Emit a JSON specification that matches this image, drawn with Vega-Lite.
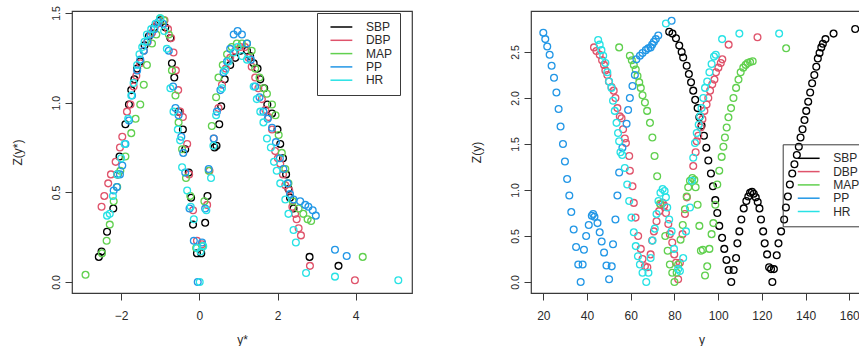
{
  "$schema": "https://vega.github.io/schema/vega-lite/v6.json",
  "background": "white",
  "autosize": {"type": "pad"},
  "padding": {"left": 10, "top": 5, "right": 0, "bottom": 0},
  "spacing": 119,
  "bounds": "flush",
  "resolve": {"scale": {"color": "independent"}, "legend": {"color": "independent"}},
  "config": {
    "font": "Liberation Sans",
    "view": {"stroke": "#3a3a3a", "strokeWidth": 1.2},
    "axis": {"domain": false, "grid": false, "tickSize": 7, "tickColor": "#3a3a3a", "tickWidth": 1, "labelColor": "#2a2a2a", "titleColor": "#2a2a2a", "titleFontWeight": "normal", "titleFontSize": 12, "labelFont": "Liberation Sans", "titleFont": "Liberation Sans"},
    "axisX": {"labelFontSize": 12, "labelPadding": 10, "titlePadding": 13},
    "axisY": {"labelFontSize": 10.5, "labelAngle": -90, "labelAlign": "center", "labelBaseline": "alphabetic", "labelPadding": 6, "titlePadding": 27},
    "legend": {"symbolType": "M-3,0H3", "symbolSize": 53, "symbolStrokeWidth": 1.5, "labelFontSize": 12, "labelColor": "#2a2a2a", "strokeColor": "#3a3a3a", "padding": 8, "rowPadding": 1.3, "labelOffset": 18.5}
  },
  "datasets": {
    "standardized": [
      {"series":"SBP","y":-2.57,"z":0.14},{"series":"SBP","y":-2.50,"z":0.17},{"series":"SBP","y":-2.36,"z":0.28},{"series":"SBP","y":-2.20,"z":0.41},{"series":"SBP","y":-2.09,"z":0.60},{"series":"SBP","y":-2.04,"z":0.70},{"series":"SBP","y":-1.89,"z":0.88},{"series":"SBP","y":-1.80,"z":0.99},{"series":"SBP","y":-1.74,"z":1.07},{"series":"SBP","y":-1.66,"z":1.13},{"series":"SBP","y":-1.59,"z":1.19},{"series":"SBP","y":-1.51,"z":1.23},{"series":"SBP","y":-1.40,"z":1.32},{"series":"SBP","y":-1.29,"z":1.37},{"series":"SBP","y":-1.15,"z":1.42},{"series":"SBP","y":-1.00,"z":1.46},{"series":"SBP","y":-0.87,"z":1.42},{"series":"SBP","y":-0.74,"z":1.36},{"series":"SBP","y":-0.70,"z":1.22},{"series":"SBP","y":-0.64,"z":1.14},{"series":"SBP","y":-0.53,"z":0.95},{"series":"SBP","y":-0.42,"z":0.85},{"series":"SBP","y":-0.36,"z":0.74},{"series":"SBP","y":-0.27,"z":0.61},{"series":"SBP","y":-0.21,"z":0.47},{"series":"SBP","y":-0.16,"z":0.32},{"series":"SBP","y":-0.06,"z":0.16},{"series":"SBP","y":0.05,"z":0.16},{"series":"SBP","y":0.15,"z":0.33},{"series":"SBP","y":0.21,"z":0.48},{"series":"SBP","y":0.39,"z":0.75},{"series":"SBP","y":0.44,"z":0.76},{"series":"SBP","y":0.51,"z":0.88},{"series":"SBP","y":0.56,"z":0.98},{"series":"SBP","y":0.65,"z":1.13},{"series":"SBP","y":0.79,"z":1.21},{"series":"SBP","y":0.92,"z":1.25},{"series":"SBP","y":1.05,"z":1.29},{"series":"SBP","y":1.22,"z":1.29},{"series":"SBP","y":1.30,"z":1.26},{"series":"SBP","y":1.39,"z":1.22},{"series":"SBP","y":1.49,"z":1.19},{"series":"SBP","y":1.56,"z":1.13},{"series":"SBP","y":1.66,"z":1.08},{"series":"SBP","y":1.74,"z":0.99},{"series":"SBP","y":1.86,"z":0.94},{"series":"SBP","y":2.00,"z":0.85},{"series":"SBP","y":2.07,"z":0.77},{"series":"SBP","y":2.14,"z":0.69},{"series":"SBP","y":2.22,"z":0.60},{"series":"SBP","y":2.28,"z":0.52},{"series":"SBP","y":2.32,"z":0.47},{"series":"SBP","y":2.41,"z":0.41},{"series":"SBP","y":2.82,"z":0.14},{"series":"SBP","y":3.56,"z":0.09},
      {"series":"DBP","y":-2.50,"z":0.42},{"series":"DBP","y":-2.43,"z":0.48},{"series":"DBP","y":-2.33,"z":0.55},{"series":"DBP","y":-2.26,"z":0.60},{"series":"DBP","y":-2.14,"z":0.67},{"series":"DBP","y":-2.03,"z":0.75},{"series":"DBP","y":-1.97,"z":0.81},{"series":"DBP","y":-1.85,"z":0.95},{"series":"DBP","y":-1.76,"z":0.99},{"series":"DBP","y":-1.68,"z":1.09},{"series":"DBP","y":-1.61,"z":1.15},{"series":"DBP","y":-1.51,"z":1.22},{"series":"DBP","y":-1.42,"z":1.29},{"series":"DBP","y":-1.32,"z":1.34},{"series":"DBP","y":-1.21,"z":1.39},{"series":"DBP","y":-1.08,"z":1.44},{"series":"DBP","y":-0.89,"z":1.46},{"series":"DBP","y":-0.80,"z":1.41},{"series":"DBP","y":-0.72,"z":1.36},{"series":"DBP","y":-0.66,"z":1.28},{"series":"DBP","y":-0.60,"z":1.18},{"series":"DBP","y":-0.54,"z":1.07},{"series":"DBP","y":-0.49,"z":0.95},{"series":"DBP","y":-0.42,"z":0.92},{"series":"DBP","y":-0.31,"z":0.77},{"series":"DBP","y":-0.26,"z":0.60},{"series":"DBP","y":-0.16,"z":0.40},{"series":"DBP","y":-0.06,"z":0.23},{"series":"DBP","y":0.07,"z":0.21},{"series":"DBP","y":0.20,"z":0.43},{"series":"DBP","y":0.26,"z":0.62},{"series":"DBP","y":0.37,"z":0.80},{"series":"DBP","y":0.49,"z":0.97},{"series":"DBP","y":0.58,"z":1.10},{"series":"DBP","y":0.68,"z":1.19},{"series":"DBP","y":0.79,"z":1.25},{"series":"DBP","y":0.92,"z":1.29},{"series":"DBP","y":1.05,"z":1.31},{"series":"DBP","y":1.17,"z":1.31},{"series":"DBP","y":1.26,"z":1.25},{"series":"DBP","y":1.34,"z":1.20},{"series":"DBP","y":1.43,"z":1.14},{"series":"DBP","y":1.51,"z":1.08},{"series":"DBP","y":1.60,"z":1.02},{"series":"DBP","y":1.69,"z":0.96},{"series":"DBP","y":1.77,"z":0.92},{"series":"DBP","y":1.86,"z":0.85},{"series":"DBP","y":1.94,"z":0.73},{"series":"DBP","y":2.01,"z":0.69},{"series":"DBP","y":2.07,"z":0.66},{"series":"DBP","y":2.14,"z":0.60},{"series":"DBP","y":2.20,"z":0.54},{"series":"DBP","y":2.30,"z":0.51},{"series":"DBP","y":2.38,"z":0.42},{"series":"DBP","y":2.45,"z":0.38},{"series":"DBP","y":2.49,"z":0.35},{"series":"DBP","y":2.54,"z":0.30},{"series":"DBP","y":2.60,"z":0.26},{"series":"DBP","y":2.83,"z":0.09},{"series":"DBP","y":3.98,"z":0.01},
      {"series":"MAP","y":-2.91,"z":0.04},{"series":"MAP","y":-2.49,"z":0.16},{"series":"MAP","y":-2.37,"z":0.23},{"series":"MAP","y":-2.29,"z":0.32},{"series":"MAP","y":-2.19,"z":0.45},{"series":"MAP","y":-2.10,"z":0.53},{"series":"MAP","y":-2.02,"z":0.62},{"series":"MAP","y":-1.89,"z":0.70},{"series":"MAP","y":-1.74,"z":0.83},{"series":"MAP","y":-1.63,"z":0.91},{"series":"MAP","y":-1.51,"z":0.99},{"series":"MAP","y":-1.42,"z":1.10},{"series":"MAP","y":-1.34,"z":1.21},{"series":"MAP","y":-1.21,"z":1.33},{"series":"MAP","y":-1.10,"z":1.38},{"series":"MAP","y":-1.00,"z":1.47},{"series":"MAP","y":-0.91,"z":1.46},{"series":"MAP","y":-0.78,"z":1.38},{"series":"MAP","y":-0.70,"z":1.18},{"series":"MAP","y":-0.61,"z":1.04},{"series":"MAP","y":-0.53,"z":0.89},{"series":"MAP","y":-0.44,"z":0.74},{"series":"MAP","y":-0.34,"z":0.58},{"series":"MAP","y":-0.23,"z":0.48},{"series":"MAP","y":-0.08,"z":0.19},{"series":"MAP","y":0.08,"z":0.20},{"series":"MAP","y":0.13,"z":0.45},{"series":"MAP","y":0.24,"z":0.62},{"series":"MAP","y":0.32,"z":0.87},{"series":"MAP","y":0.43,"z":1.03},{"series":"MAP","y":0.49,"z":1.14},{"series":"MAP","y":0.60,"z":1.21},{"series":"MAP","y":0.71,"z":1.27},{"series":"MAP","y":0.83,"z":1.31},{"series":"MAP","y":0.96,"z":1.33},{"series":"MAP","y":1.09,"z":1.33},{"series":"MAP","y":1.22,"z":1.33},{"series":"MAP","y":1.34,"z":1.29},{"series":"MAP","y":1.43,"z":1.19},{"series":"MAP","y":1.54,"z":1.14},{"series":"MAP","y":1.64,"z":1.08},{"series":"MAP","y":1.73,"z":1.05},{"series":"MAP","y":1.86,"z":0.99},{"series":"MAP","y":1.95,"z":0.93},{"series":"MAP","y":2.03,"z":0.82},{"series":"MAP","y":2.11,"z":0.72},{"series":"MAP","y":2.20,"z":0.63},{"series":"MAP","y":2.28,"z":0.55},{"series":"MAP","y":2.39,"z":0.45},{"series":"MAP","y":2.54,"z":0.41},{"series":"MAP","y":2.66,"z":0.38},{"series":"MAP","y":2.77,"z":0.35},{"series":"MAP","y":2.86,"z":0.34},{"series":"MAP","y":4.18,"z":0.14},
      {"series":"PP","y":-2.19,"z":0.51},{"series":"PP","y":-2.11,"z":0.53},{"series":"PP","y":-2.03,"z":0.60},{"series":"PP","y":-1.97,"z":0.65},{"series":"PP","y":-1.89,"z":0.77},{"series":"PP","y":-1.80,"z":0.90},{"series":"PP","y":-1.72,"z":1.04},{"series":"PP","y":-1.59,"z":1.18},{"series":"PP","y":-1.51,"z":1.24},{"series":"PP","y":-1.42,"z":1.29},{"series":"PP","y":-1.33,"z":1.34},{"series":"PP","y":-1.25,"z":1.38},{"series":"PP","y":-1.15,"z":1.41},{"series":"PP","y":-1.04,"z":1.45},{"series":"PP","y":-0.93,"z":1.44},{"series":"PP","y":-0.78,"z":1.29},{"series":"PP","y":-0.67,"z":1.09},{"series":"PP","y":-0.61,"z":0.97},{"series":"PP","y":-0.53,"z":0.93},{"series":"PP","y":-0.46,"z":0.81},{"series":"PP","y":-0.41,"z":0.72},{"series":"PP","y":-0.36,"z":0.61},{"series":"PP","y":-0.25,"z":0.41},{"series":"PP","y":-0.14,"z":0.23},{"series":"PP","y":-0.04,"z":0.00},{"series":"PP","y":0.07,"z":0.22},{"series":"PP","y":0.15,"z":0.41},{"series":"PP","y":0.24,"z":0.63},{"series":"PP","y":0.37,"z":0.80},{"series":"PP","y":0.45,"z":0.95},{"series":"PP","y":0.54,"z":1.07},{"series":"PP","y":0.62,"z":1.17},{"series":"PP","y":0.71,"z":1.23},{"series":"PP","y":0.79,"z":1.30},{"series":"PP","y":0.88,"z":1.38},{"series":"PP","y":0.98,"z":1.40},{"series":"PP","y":1.09,"z":1.38},{"series":"PP","y":1.22,"z":1.33},{"series":"PP","y":1.32,"z":1.24},{"series":"PP","y":1.43,"z":1.09},{"series":"PP","y":1.54,"z":1.03},{"series":"PP","y":1.64,"z":0.95},{"series":"PP","y":1.75,"z":0.91},{"series":"PP","y":1.86,"z":0.86},{"series":"PP","y":1.96,"z":0.78},{"series":"PP","y":2.06,"z":0.69},{"series":"PP","y":2.15,"z":0.63},{"series":"PP","y":2.26,"z":0.55},{"series":"PP","y":2.32,"z":0.49},{"series":"PP","y":2.41,"z":0.46},{"series":"PP","y":2.58,"z":0.45},{"series":"PP","y":2.71,"z":0.43},{"series":"PP","y":2.79,"z":0.42},{"series":"PP","y":2.90,"z":0.40},{"series":"PP","y":2.98,"z":0.37},{"series":"PP","y":3.47,"z":0.18},{"series":"PP","y":3.77,"z":0.145},
      {"series":"HR","y":-2.36,"z":0.37},{"series":"HR","y":-2.29,"z":0.38},{"series":"HR","y":-2.21,"z":0.48},{"series":"HR","y":-2.10,"z":0.60},{"series":"HR","y":-2.00,"z":0.69},{"series":"HR","y":-1.91,"z":0.77},{"series":"HR","y":-1.82,"z":0.91},{"series":"HR","y":-1.74,"z":1.04},{"series":"HR","y":-1.68,"z":1.11},{"series":"HR","y":-1.59,"z":1.21},{"series":"HR","y":-1.53,"z":1.27},{"series":"HR","y":-1.46,"z":1.31},{"series":"HR","y":-1.40,"z":1.34},{"series":"HR","y":-1.34,"z":1.38},{"series":"HR","y":-1.23,"z":1.41},{"series":"HR","y":-1.12,"z":1.44},{"series":"HR","y":-1.00,"z":1.47},{"series":"HR","y":-0.90,"z":1.40},{"series":"HR","y":-0.83,"z":1.30},{"series":"HR","y":-0.74,"z":1.08},{"series":"HR","y":-0.66,"z":0.95},{"series":"HR","y":-0.55,"z":0.85},{"series":"HR","y":-0.49,"z":0.79},{"series":"HR","y":-0.44,"z":0.64},{"series":"HR","y":-0.31,"z":0.51},{"series":"HR","y":-0.22,"z":0.42},{"series":"HR","y":-0.14,"z":0.35},{"series":"HR","y":-0.06,"z":0.19},{"series":"HR","y":0.01,"z":0.00},{"series":"HR","y":0.03,"z":0.17},{"series":"HR","y":0.10,"z":0.20},{"series":"HR","y":0.18,"z":0.40},{"series":"HR","y":0.30,"z":0.58},{"series":"HR","y":0.36,"z":0.76},{"series":"HR","y":0.43,"z":0.93},{"series":"HR","y":0.58,"z":1.08},{"series":"HR","y":0.66,"z":1.18},{"series":"HR","y":0.75,"z":1.23},{"series":"HR","y":0.88,"z":1.28},{"series":"HR","y":0.98,"z":1.31},{"series":"HR","y":1.09,"z":1.26},{"series":"HR","y":1.22,"z":1.24},{"series":"HR","y":1.39,"z":1.09},{"series":"HR","y":1.47,"z":1.02},{"series":"HR","y":1.56,"z":0.95},{"series":"HR","y":1.64,"z":0.89},{"series":"HR","y":1.73,"z":0.80},{"series":"HR","y":1.83,"z":0.75},{"series":"HR","y":1.91,"z":0.67},{"series":"HR","y":1.98,"z":0.62},{"series":"HR","y":2.07,"z":0.55},{"series":"HR","y":2.20,"z":0.46},{"series":"HR","y":2.28,"z":0.38},{"series":"HR","y":2.41,"z":0.29},{"series":"HR","y":2.47,"z":0.22},{"series":"HR","y":2.73,"z":0.05},{"series":"HR","y":3.47,"z":0.03},{"series":"HR","y":5.09,"z":0.01}
    ],
    "original": [
      {"series":"SBP","y":77.6,"z":2.72},{"series":"SBP","y":79.1,"z":2.70},{"series":"SBP","y":80.7,"z":2.65},{"series":"SBP","y":82.2,"z":2.57},{"series":"SBP","y":83.3,"z":2.50},{"series":"SBP","y":84.0,"z":2.44},{"series":"SBP","y":85.6,"z":2.35},{"series":"SBP","y":86.6,"z":2.26},{"series":"SBP","y":87.6,"z":2.17},{"series":"SBP","y":88.6,"z":2.08},{"series":"SBP","y":89.5,"z":1.98},{"series":"SBP","y":90.6,"z":1.89},{"series":"SBP","y":91.4,"z":1.79},{"series":"SBP","y":92.4,"z":1.70},{"series":"SBP","y":93.5,"z":1.59},{"series":"SBP","y":94.6,"z":1.46},{"series":"SBP","y":95.5,"z":1.32},{"series":"SBP","y":96.7,"z":1.18},{"series":"SBP","y":97.6,"z":1.04},{"series":"SBP","y":98.7,"z":0.89},{"series":"SBP","y":99.6,"z":0.75},{"series":"SBP","y":100.5,"z":0.61},{"series":"SBP","y":101.8,"z":0.48},{"series":"SBP","y":102.8,"z":0.36},{"series":"SBP","y":103.8,"z":0.24},{"series":"SBP","y":104.8,"z":0.13},{"series":"SBP","y":106.0,"z":0.00},{"series":"SBP","y":107.1,"z":0.13},{"series":"SBP","y":108.2,"z":0.26},{"series":"SBP","y":108.8,"z":0.42},{"series":"SBP","y":109.7,"z":0.55},{"series":"SBP","y":110.6,"z":0.68},{"series":"SBP","y":111.7,"z":0.80},{"series":"SBP","y":112.9,"z":0.88},{"series":"SBP","y":113.8,"z":0.93},{"series":"SBP","y":114.6,"z":0.97},{"series":"SBP","y":115.5,"z":0.98},{"series":"SBP","y":116.3,"z":0.96},{"series":"SBP","y":117.2,"z":0.92},{"series":"SBP","y":118.1,"z":0.87},{"series":"SBP","y":118.9,"z":0.80},{"series":"SBP","y":119.6,"z":0.68},{"series":"SBP","y":120.6,"z":0.55},{"series":"SBP","y":121.3,"z":0.42},{"series":"SBP","y":122.4,"z":0.30},{"series":"SBP","y":123.3,"z":0.16},{"series":"SBP","y":124.2,"z":0.14},{"series":"SBP","y":124.8,"z":0.00},{"series":"SBP","y":125.5,"z":0.14},{"series":"SBP","y":126.8,"z":0.29},{"series":"SBP","y":127.6,"z":0.42},{"series":"SBP","y":128.8,"z":0.55},{"series":"SBP","y":130.2,"z":0.68},{"series":"SBP","y":131.0,"z":0.81},{"series":"SBP","y":131.9,"z":0.93},{"series":"SBP","y":132.8,"z":1.06},{"series":"SBP","y":133.9,"z":1.18},{"series":"SBP","y":134.9,"z":1.28},{"series":"SBP","y":136.0,"z":1.38},{"series":"SBP","y":136.9,"z":1.47},{"series":"SBP","y":137.7,"z":1.57},{"series":"SBP","y":138.6,"z":1.66},{"series":"SBP","y":139.5,"z":1.76},{"series":"SBP","y":140.3,"z":1.86},{"series":"SBP","y":141.2,"z":1.96},{"series":"SBP","y":142.1,"z":2.06},{"series":"SBP","y":143.0,"z":2.16},{"series":"SBP","y":144.0,"z":2.25},{"series":"SBP","y":144.9,"z":2.34},{"series":"SBP","y":145.6,"z":2.43},{"series":"SBP","y":146.4,"z":2.49},{"series":"SBP","y":147.2,"z":2.55},{"series":"SBP","y":147.9,"z":2.59},{"series":"SBP","y":149.1,"z":2.64},{"series":"SBP","y":152.8,"z":2.70},{"series":"SBP","y":162.7,"z":2.75},
      {"series":"DBP","y":43.2,"z":2.55},{"series":"DBP","y":44.3,"z":2.51},{"series":"DBP","y":45.8,"z":2.47},{"series":"DBP","y":46.9,"z":2.41},{"series":"DBP","y":47.8,"z":2.36},{"series":"DBP","y":48.4,"z":2.30},{"series":"DBP","y":49.3,"z":2.25},{"series":"DBP","y":50.0,"z":2.18},{"series":"DBP","y":51.2,"z":2.12},{"series":"DBP","y":52.2,"z":2.08},{"series":"DBP","y":53.0,"z":2.00},{"series":"DBP","y":53.9,"z":1.89},{"series":"DBP","y":55.0,"z":1.80},{"series":"DBP","y":55.8,"z":1.78},{"series":"DBP","y":56.5,"z":1.66},{"series":"DBP","y":57.3,"z":1.56},{"series":"DBP","y":57.8,"z":1.51},{"series":"DBP","y":59.3,"z":1.37},{"series":"DBP","y":59.6,"z":1.21},{"series":"DBP","y":60.8,"z":1.04},{"series":"DBP","y":61.4,"z":0.86},{"series":"DBP","y":62.2,"z":0.70},{"series":"DBP","y":63.4,"z":0.50},{"series":"DBP","y":64.6,"z":0.36},{"series":"DBP","y":65.4,"z":0.25},{"series":"DBP","y":66.5,"z":0.17},{"series":"DBP","y":67.6,"z":0.16},{"series":"DBP","y":69.1,"z":0.30},{"series":"DBP","y":69.8,"z":0.45},{"series":"DBP","y":70.6,"z":0.55},{"series":"DBP","y":71.8,"z":0.66},{"series":"DBP","y":73.0,"z":0.77},{"series":"DBP","y":73.8,"z":0.84},{"series":"DBP","y":74.6,"z":0.86},{"series":"DBP","y":75.3,"z":0.83},{"series":"DBP","y":76.1,"z":0.75},{"series":"DBP","y":77.2,"z":0.63},{"series":"DBP","y":77.9,"z":0.52},{"series":"DBP","y":79.0,"z":0.43},{"series":"DBP","y":79.9,"z":0.30},{"series":"DBP","y":80.7,"z":0.21},{"series":"DBP","y":81.7,"z":0.03},{"series":"DBP","y":82.5,"z":0.21},{"series":"DBP","y":83.7,"z":0.52},{"series":"DBP","y":84.8,"z":0.74},{"series":"DBP","y":85.7,"z":0.92},{"series":"DBP","y":88.6,"z":1.26},{"series":"DBP","y":89.7,"z":1.41},{"series":"DBP","y":90.2,"z":1.53},{"series":"DBP","y":90.9,"z":1.59},{"series":"DBP","y":92.0,"z":1.68},{"series":"DBP","y":92.8,"z":1.77},{"series":"DBP","y":93.7,"z":1.86},{"series":"DBP","y":94.7,"z":1.93},{"series":"DBP","y":95.5,"z":2.00},{"series":"DBP","y":96.3,"z":2.08},{"series":"DBP","y":97.3,"z":2.15},{"series":"DBP","y":98.3,"z":2.20},{"series":"DBP","y":99.0,"z":2.28},{"series":"DBP","y":100.1,"z":2.33},{"series":"DBP","y":101.2,"z":2.38},{"series":"DBP","y":101.9,"z":2.42},{"series":"DBP","y":104.8,"z":2.58},{"series":"DBP","y":118.0,"z":2.66},
      {"series":"MAP","y":54.7,"z":2.55},{"series":"MAP","y":59.6,"z":2.46},{"series":"MAP","y":60.5,"z":2.41},{"series":"MAP","y":61.4,"z":2.36},{"series":"MAP","y":62.3,"z":2.31},{"series":"MAP","y":63.1,"z":2.24},{"series":"MAP","y":63.9,"z":2.17},{"series":"MAP","y":64.6,"z":2.11},{"series":"MAP","y":65.4,"z":2.03},{"series":"MAP","y":66.5,"z":1.95},{"series":"MAP","y":67.5,"z":1.86},{"series":"MAP","y":68.8,"z":1.73},{"series":"MAP","y":69.9,"z":1.57},{"series":"MAP","y":70.9,"z":1.37},{"series":"MAP","y":72.1,"z":1.15},{"series":"MAP","y":73.4,"z":0.85},{"series":"MAP","y":75.8,"z":0.50},{"series":"MAP","y":76.9,"z":0.34},{"series":"MAP","y":77.9,"z":0.19},{"series":"MAP","y":79.0,"z":0.10},{"series":"MAP","y":80.0,"z":0.00},{"series":"MAP","y":81.0,"z":0.10},{"series":"MAP","y":81.7,"z":0.19},{"series":"MAP","y":82.8,"z":0.46},{"series":"MAP","y":83.8,"z":0.62},{"series":"MAP","y":84.8,"z":0.79},{"series":"MAP","y":85.6,"z":0.93},{"series":"MAP","y":86.3,"z":1.03},{"series":"MAP","y":87.1,"z":1.10},{"series":"MAP","y":88.2,"z":1.13},{"series":"MAP","y":89.1,"z":1.11},{"series":"MAP","y":89.7,"z":1.03},{"series":"MAP","y":90.6,"z":0.84},{"series":"MAP","y":91.4,"z":0.61},{"series":"MAP","y":92.1,"z":0.34},{"series":"MAP","y":93.0,"z":0.35},{"series":"MAP","y":94.0,"z":0.07},{"series":"MAP","y":95.0,"z":0.17},{"series":"MAP","y":96.0,"z":0.36},{"series":"MAP","y":97.0,"z":0.52},{"series":"MAP","y":97.8,"z":0.64},{"series":"MAP","y":98.7,"z":0.84},{"series":"MAP","y":99.6,"z":1.06},{"series":"MAP","y":100.5,"z":1.21},{"series":"MAP","y":101.6,"z":1.36},{"series":"MAP","y":102.4,"z":1.47},{"series":"MAP","y":103.1,"z":1.57},{"series":"MAP","y":103.9,"z":1.68},{"series":"MAP","y":104.7,"z":1.79},{"series":"MAP","y":105.9,"z":1.89},{"series":"MAP","y":107.0,"z":2.00},{"series":"MAP","y":108.2,"z":2.11},{"series":"MAP","y":109.3,"z":2.20},{"series":"MAP","y":110.3,"z":2.28},{"series":"MAP","y":111.5,"z":2.33},{"series":"MAP","y":112.6,"z":2.36},{"series":"MAP","y":113.5,"z":2.38},{"series":"MAP","y":114.6,"z":2.39},{"series":"MAP","y":115.8,"z":2.40},{"series":"MAP","y":131.1,"z":2.54},
      {"series":"PP","y":20.0,"z":2.71},{"series":"PP","y":20.9,"z":2.64},{"series":"PP","y":21.8,"z":2.56},{"series":"PP","y":22.9,"z":2.47},{"series":"PP","y":23.8,"z":2.35},{"series":"PP","y":24.9,"z":2.22},{"series":"PP","y":26.0,"z":2.06},{"series":"PP","y":27.0,"z":1.88},{"series":"PP","y":27.9,"z":1.69},{"series":"PP","y":29.0,"z":1.50},{"series":"PP","y":29.9,"z":1.31},{"series":"PP","y":30.9,"z":1.12},{"series":"PP","y":31.9,"z":0.94},{"series":"PP","y":32.8,"z":0.76},{"series":"PP","y":33.9,"z":0.57},{"series":"PP","y":35.0,"z":0.38},{"series":"PP","y":36.0,"z":0.19},{"series":"PP","y":37.1,"z":0.00},{"series":"PP","y":38.0,"z":0.19},{"series":"PP","y":38.6,"z":0.35},{"series":"PP","y":39.6,"z":0.50},{"series":"PP","y":40.8,"z":0.62},{"series":"PP","y":42.2,"z":0.72},{"series":"PP","y":42.8,"z":0.74},{"series":"PP","y":43.4,"z":0.71},{"series":"PP","y":44.8,"z":0.64},{"series":"PP","y":45.8,"z":0.54},{"series":"PP","y":46.7,"z":0.44},{"series":"PP","y":47.8,"z":0.32},{"series":"PP","y":48.9,"z":0.18},{"series":"PP","y":50.1,"z":0.03},{"series":"PP","y":51.3,"z":0.17},{"series":"PP","y":51.9,"z":0.41},{"series":"PP","y":53.0,"z":0.68},{"series":"PP","y":53.9,"z":0.94},{"series":"PP","y":54.7,"z":1.19},{"series":"PP","y":56.2,"z":1.46},{"series":"PP","y":58.1,"z":1.72},{"series":"PP","y":58.8,"z":1.87},{"series":"PP","y":59.6,"z":2.00},{"series":"PP","y":60.8,"z":2.13},{"series":"PP","y":61.9,"z":2.25},{"series":"PP","y":62.6,"z":2.42},{"series":"PP","y":64.2,"z":2.46},{"series":"PP","y":65.4,"z":2.49},{"series":"PP","y":66.9,"z":2.52},{"series":"PP","y":68.0,"z":2.54},{"series":"PP","y":69.1,"z":2.55},{"series":"PP","y":69.8,"z":2.58},{"series":"PP","y":70.6,"z":2.61},{"series":"PP","y":71.5,"z":2.64},{"series":"PP","y":72.6,"z":2.68},{"series":"PP","y":78.7,"z":2.84},
      {"series":"HR","y":45.1,"z":2.63},{"series":"HR","y":45.8,"z":2.58},{"series":"HR","y":46.6,"z":2.52},{"series":"HR","y":47.4,"z":2.46},{"series":"HR","y":48.4,"z":2.38},{"series":"HR","y":49.3,"z":2.28},{"series":"HR","y":50.1,"z":2.18},{"series":"HR","y":51.2,"z":2.11},{"series":"HR","y":51.9,"z":1.97},{"series":"HR","y":52.7,"z":1.86},{"series":"HR","y":53.5,"z":1.73},{"series":"HR","y":54.2,"z":1.62},{"series":"HR","y":54.7,"z":1.53},{"series":"HR","y":55.3,"z":1.41},{"series":"HR","y":56.1,"z":1.38},{"series":"HR","y":57.3,"z":1.24},{"series":"HR","y":58.4,"z":1.06},{"series":"HR","y":59.3,"z":0.88},{"series":"HR","y":60.3,"z":0.70},{"series":"HR","y":61.4,"z":0.54},{"series":"HR","y":62.3,"z":0.39},{"series":"HR","y":63.3,"z":0.28},{"series":"HR","y":64.2,"z":0.19},{"series":"HR","y":65.4,"z":0.10},{"series":"HR","y":67.1,"z":0.00},{"series":"HR","y":68.1,"z":0.10},{"series":"HR","y":69.1,"z":0.26},{"series":"HR","y":70.0,"z":0.45},{"series":"HR","y":71.0,"z":0.58},{"series":"HR","y":71.8,"z":0.74},{"series":"HR","y":72.7,"z":0.88},{"series":"HR","y":73.6,"z":0.97},{"series":"HR","y":74.6,"z":1.01},{"series":"HR","y":75.5,"z":0.99},{"series":"HR","y":76.1,"z":0.92},{"series":"HR","y":76.7,"z":0.81},{"series":"HR","y":77.6,"z":0.68},{"series":"HR","y":78.7,"z":0.55},{"series":"HR","y":79.8,"z":0.36},{"series":"HR","y":81.7,"z":0.14},{"series":"HR","y":82.5,"z":0.12},{"series":"HR","y":84.0,"z":0.26},{"series":"HR","y":85.3,"z":0.55},{"series":"HR","y":87.1,"z":0.81},{"series":"HR","y":88.0,"z":1.10},{"series":"HR","y":88.6,"z":1.35},{"series":"HR","y":89.4,"z":1.51},{"series":"HR","y":90.2,"z":1.62},{"series":"HR","y":91.1,"z":1.71},{"series":"HR","y":91.7,"z":1.80},{"series":"HR","y":92.4,"z":1.89},{"series":"HR","y":93.2,"z":2.00},{"series":"HR","y":94.0,"z":2.11},{"series":"HR","y":95.0,"z":2.18},{"series":"HR","y":96.0,"z":2.28},{"series":"HR","y":97.0,"z":2.37},{"series":"HR","y":98.1,"z":2.45},{"series":"HR","y":98.9,"z":2.47},{"series":"HR","y":101.8,"z":2.64},{"series":"HR","y":109.7,"z":2.70},{"series":"HR","y":127.9,"z":2.70},{"series":"HR","y":76.1,"z":2.81}
    ]
  },
  "hconcat": [
    {
      "data": {"name": "standardized"},
      "width": 340,
      "height": 282,
      "mark": {"type": "point", "shape": "circle", "filled": false, "size": 46, "strokeWidth": 1.3, "opacity": 1},
      "encoding": {
        "x": {"field": "y", "type": "quantitative", "scale": {"domain": [-3.256, 5.44], "nice": false, "zero": false}, "axis": {"values": [-2, 0, 2, 4], "format": "d", "title": "y*"}},
        "y": {"field": "z", "type": "quantitative", "scale": {"domain": [-0.0613, 1.5112], "nice": false, "zero": false}, "axis": {"values": [0, 0.5, 1, 1.5], "format": ".1f", "title": "Z(y*)"}},
        "color": {"field": "series", "type": "nominal", "scale": {"domain": ["SBP", "DBP", "MAP", "PP", "HR"], "range": ["#000000", "#DF536B", "#61D04F", "#2297E6", "#28E2E5"]}, "legend": {"title": null, "orient": "none", "legendX": 245, "legendY": 2, "symbolOffset": 10.4}}
      }
    },
    {
      "data": {"name": "original"},
      "width": 341,
      "height": 282,
      "mark": {"type": "point", "shape": "circle", "filled": false, "size": 46, "strokeWidth": 1.3, "opacity": 1},
      "encoding": {
        "x": {"field": "y", "type": "quantitative", "scale": {"domain": [14.37, 170.39], "nice": false, "zero": false}, "axis": {"values": [20, 40, 60, 80, 100, 120, 140, 160], "format": "d", "title": "y"}},
        "y": {"field": "z", "type": "quantitative", "scale": {"domain": [-0.1196, 2.9457], "nice": false, "zero": false}, "axis": {"values": [0, 0.5, 1, 1.5, 2, 2.5], "format": ".1f", "title": "Z(y)"}},
        "color": {"field": "series", "type": "nominal", "scale": {"domain": ["SBP", "DBP", "MAP", "PP", "HR"], "range": ["#000000", "#DF536B", "#61D04F", "#2297E6", "#28E2E5"]}, "legend": {"title": null, "orient": "none", "legendX": 251.7, "legendY": 133.3, "symbolOffset": 12}}
      }
    }
  ]
}
